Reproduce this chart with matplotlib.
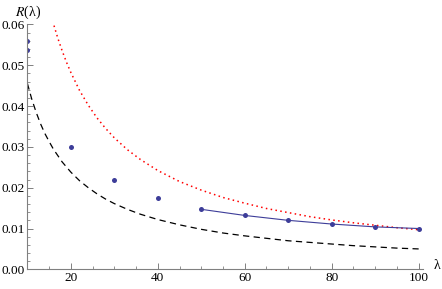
import matplotlib
matplotlib.use("Agg")
import matplotlib.pyplot as plt
from matplotlib.ticker import MultipleLocator, FormatStrFormatter

plt.rcParams['font.family'] = ['Liberation Serif', 'DejaVu Serif']
plt.rcParams['mathtext.fontset'] = 'stix'

# data points (blue)
lam_pts = [10, 10, 20, 30, 40, 50, 60, 70, 80, 90, 100]
r_pts = [0.0560, 0.0538, 0.0300, 0.0220, 0.0175, 0.0147, 0.0132, 0.0120, 0.0110, 0.0104, 0.0100]

# fitted line over the tail (blue)
lam_fit = [50, 60, 70, 80, 90, 100]
r_fit = [0.0147, 0.0132, 0.0120, 0.0111, 0.0104, 0.0100]

# upper bound (red dotted)
lam_red = [15.5, 16, 17, 18, 19, 20, 22, 24, 26, 28, 30, 33, 36, 40, 45, 50, 55, 60,
           65, 70, 75, 80, 85, 90, 95, 100]
r_red = [0.0620, 0.0601, 0.0566, 0.0535, 0.0507, 0.0482, 0.0438, 0.0402, 0.0371, 0.0345,
         0.0322, 0.0293, 0.0269, 0.0242, 0.0215, 0.0194, 0.0176, 0.0162, 0.0149, 0.0139,
         0.0129, 0.0121, 0.0114, 0.0108, 0.0102, 0.0097]

# lower bound (black dashed)
lam_blk = [10, 11, 12, 13, 14, 15, 16, 18, 20, 22, 24, 26, 28, 30, 33, 36, 40, 45, 50,
           55, 60, 65, 70, 75, 80, 85, 90, 95, 100]
r_blk = [0.0455, 0.0417, 0.0385, 0.0357, 0.0333, 0.0313, 0.0294, 0.0263, 0.0238, 0.0217,
         0.0200, 0.0185, 0.0172, 0.0161, 0.0147, 0.0135, 0.0122, 0.0109, 0.0098, 0.0089,
         0.0082, 0.0076, 0.0070, 0.0066, 0.0062, 0.0058, 0.0055, 0.0052, 0.0050]

blue = '#3d3d99'

fig = plt.figure(figsize=(4.42, 2.89), dpi=100)
ax = fig.add_axes([0.062, 0.068, 0.895, 0.852])

ax.plot(lam_red, r_red, color='red', linestyle=(0, (1, 2.2)), linewidth=1.1)
ax.plot(lam_blk, r_blk, color='black', linestyle=(0, (5, 3.5)), linewidth=0.9)
ax.plot(lam_fit, r_fit, color=blue, linewidth=0.8)
ax.plot(lam_pts, r_pts, 'o', color=blue, markersize=3.6, markeredgewidth=0)

ax.set_xlim(10, 101)
ax.set_ylim(0, 0.0603)

for s in ['top', 'right']:
    ax.spines[s].set_visible(False)
for s in ['left', 'bottom']:
    ax.spines[s].set_color('#808080')
    ax.spines[s].set_linewidth(0.8)
ax.spines['left'].set_bounds(0, 0.06)

ax.xaxis.set_major_locator(MultipleLocator(20))
ax.xaxis.set_minor_locator(MultipleLocator(5))
ax.yaxis.set_major_locator(MultipleLocator(0.01))
ax.yaxis.set_minor_locator(MultipleLocator(0.002))
ax.yaxis.set_major_formatter(FormatStrFormatter('%.2f'))
ax.tick_params(which='both', direction='in', color='#808080', labelsize=9.5, pad=2)
ax.tick_params(which='major', length=4, width=0.7)
ax.tick_params(which='minor', length=2.2, width=0.6)

fig.text(0.034, 0.958, r'$R$(λ)', fontsize=10, va='center')
fig.text(0.982, 0.082, 'λ', fontsize=10, va='center')

fig.savefig('out.png', dpi=100)
